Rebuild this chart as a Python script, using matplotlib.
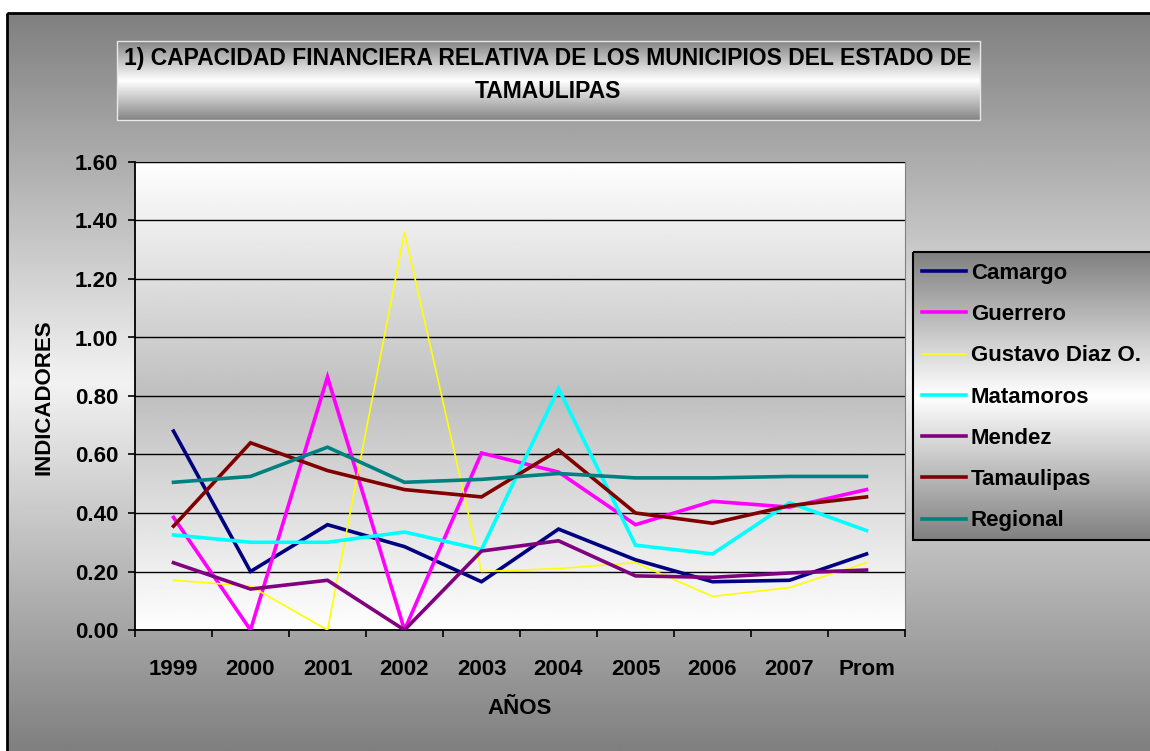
import numpy as np
import matplotlib
matplotlib.use('Agg')
import matplotlib.pyplot as plt
from matplotlib.patches import Rectangle

# chart data
years = ['1999', '2000', '2001', '2002', '2003', '2004', '2005', '2006', '2007', 'Prom']
camargo = [0.68, 0.20, 0.36, 0.285, 0.165, 0.345, 0.24, 0.165, 0.17, 0.26]
guerrero = [0.385, 0.0, 0.865, 0.0, 0.605, 0.54, 0.36, 0.44, 0.42, 0.48]
gustavo = [0.17, 0.15, 0.0, 1.36, 0.20, 0.21, 0.23, 0.115, 0.145, 0.23]
matamoros = [0.325, 0.30, 0.30, 0.335, 0.275, 0.825, 0.29, 0.26, 0.435, 0.34]
mendez = [0.23, 0.14, 0.17, 0.0, 0.27, 0.305, 0.185, 0.18, 0.195, 0.205]
tamaulipas = [0.355, 0.64, 0.545, 0.48, 0.455, 0.615, 0.40, 0.365, 0.425, 0.455]
regional = [0.505, 0.525, 0.625, 0.505, 0.515, 0.535, 0.52, 0.52, 0.525, 0.525]

series_names = ['Camargo', 'Guerrero', 'Gustavo Diaz O.', 'Matamoros', 'Mendez', 'Tamaulipas', 'Regional']
series_values = [camargo, guerrero, gustavo, matamoros, mendez, tamaulipas, regional]
series_colors = ['#000080', '#FF00FF', '#FFFF00', '#00FFFF', '#800080', '#800000', '#008080']
series_widths = [2.6, 2.6, 1.2, 2.6, 2.6, 2.6, 2.6]

W, H = 1150, 751
FONT = ['Liberation Sans', 'DejaVu Sans']


def vgrad(edge, mid):
    """vertical grey gradient: edge colour at top and bottom, mid colour in the centre"""
    t = np.abs(np.linspace(-1, 1, 256))
    return (mid + (edge - mid) * t).reshape(-1, 1)


fig = plt.figure(figsize=(W / 100, H / 100), dpi=100)
fig.patch.set_facecolor('white')

# background layer in pixel coordinates
bg = fig.add_axes([0, 0, 1, 1], zorder=-10)
bg.axis('off')

# chart area
bg.imshow(vgrad(0.5, 0.95), cmap='gray', vmin=0, vmax=1, aspect='auto',
          extent=(7, W, H, 13), interpolation='bilinear')
bg.add_patch(Rectangle((7, 13), W, H, fill=False, edgecolor='black', linewidth=2))

# title box
bg.imshow(vgrad(0.52, 1.0), cmap='gray', vmin=0, vmax=1, aspect='auto',
          extent=(117, 980, 120, 41), interpolation='bilinear')
bg.add_patch(Rectangle((117, 41), 863, 79, fill=False, edgecolor='#e8e8e8', linewidth=1))

# legend box
bg.imshow(vgrad(0.5, 1.0), cmap='gray', vmin=0, vmax=1, aspect='auto',
          extent=(913, W + 5, 540, 252), interpolation='bilinear')
bg.add_patch(Rectangle((913, 252), 250, 288, fill=False, edgecolor='black', linewidth=1.5))
bg.set_xlim(0, W)
bg.set_ylim(H, 0)

fig.text(548 / W, 1 - 75 / H,
         '1) CAPACIDAD FINANCIERA RELATIVA DE LOS MUNICIPIOS DEL ESTADO DE\nTAMAULIPAS',
         ha='center', va='center', fontsize=16.5, fontweight='bold', family=FONT,
         linespacing=1.55)

# plot area
ax = fig.add_axes([135 / W, 1 - 630 / H, 770 / W, 468 / H], facecolor='none')
ax.imshow(vgrad(1.0, 0.75), cmap='gray', vmin=0, vmax=1, aspect='auto',
          extent=(0, 1, 0, 1), transform=ax.transAxes, interpolation='bilinear', zorder=0)

x = np.arange(len(years))
for name, vals, col, lw in zip(series_names, series_values, series_colors, series_widths):
    ax.plot(x, vals, color=col, linewidth=lw, label=name, zorder=3, solid_joinstyle='miter')

ax.set_xlim(-0.5, len(years) - 0.5)
ax.set_ylim(0, 1.6)
ax.set_yticks(np.arange(0, 1.61, 0.2))
ax.set_yticklabels([f'{v:.2f}' for v in np.arange(0, 1.61, 0.2)])
ax.grid(axis='y', color='black', linewidth=1.0, zorder=1)
ax.set_axisbelow(False)

ax.set_xticks(np.arange(-0.5, len(years), 1))
ax.set_xticklabels([])
ax.set_xticks(x, minor=True)
ax.set_xticklabels(years, minor=True)
ax.tick_params(axis='x', which='minor', length=0, pad=21)
ax.tick_params(axis='both', which='major', direction='out', length=5, width=1.2, colors='black')
ax.tick_params(axis='y', pad=7)

for lab in ax.get_xticklabels(minor=True) + ax.get_yticklabels():
    lab.set_fontsize(16)
    lab.set_fontweight('bold')
    lab.set_family(FONT)

ax.spines['left'].set_linewidth(1.3)
ax.spines['bottom'].set_linewidth(1.3)
ax.spines['top'].set_color('#808080')
ax.spines['right'].set_color('#808080')

fig.text(44 / W, 1 - 397 / H, 'INDICADORES', rotation=90, ha='center', va='center',
         fontsize=16, fontweight='bold', family=FONT)
fig.text(520 / W, 1 - 708 / H, 'AÑOS', ha='center', va='center',
         fontsize=16, fontweight='bold', family=FONT)

leg = ax.legend(loc='upper left', bbox_to_anchor=(922 / W, 1 - 263 / H),
                bbox_transform=fig.transFigure, frameon=False, borderpad=0,
                borderaxespad=0, handlelength=2.0, handletextpad=0.2,
                labelspacing=0.91, prop={'family': FONT, 'weight': 'bold', 'size': 16})

fig.savefig('out.png', dpi=100)
